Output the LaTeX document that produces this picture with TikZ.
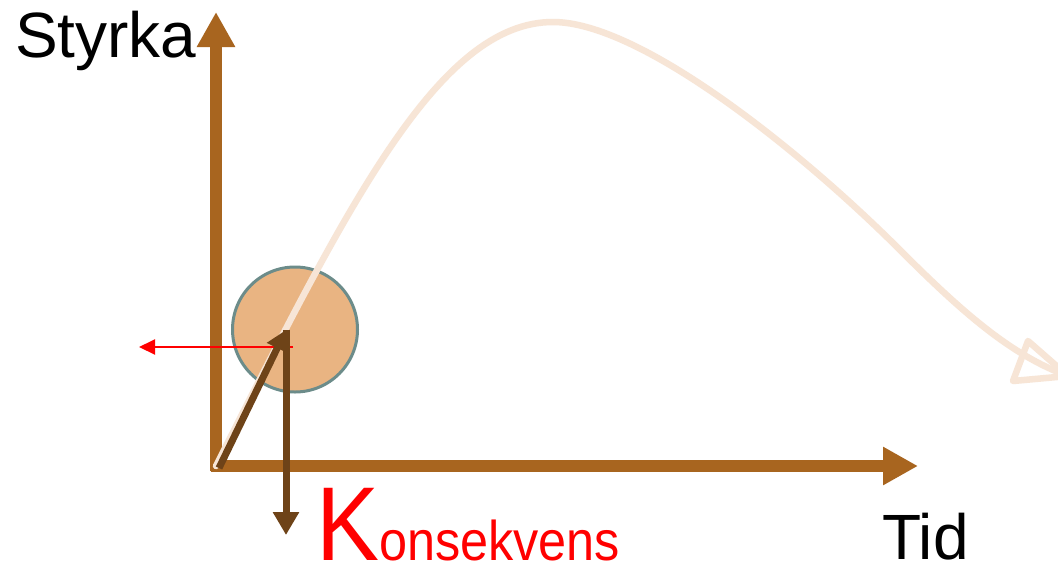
\documentclass[tikz,border=0pt]{standalone}
\usepackage{fontspec}
\setmainfont{Liberation Sans}
\usetikzlibrary{arrows.meta}
\definecolor{axisbrown}{HTML}{A8651F}
\definecolor{darkbrown}{HTML}{6E4318}
\definecolor{ballfill}{HTML}{E9B482}
\definecolor{balledge}{HTML}{6C8C8A}
\definecolor{curvecol}{HTML}{F7E5D6}
\tikzset{
  axisline/.style={draw=axisbrown, line width=11.5pt, -{Triangle[length=35pt,width=36pt]}},
  forcearrow/.style={draw=darkbrown, line width=7pt},
  lbl/.style={inner sep=0pt, anchor=base west, text depth=0pt},
}
\begin{document}
\begin{tikzpicture}[x=1pt,y=-1pt]
\useasboundingbox (0,0) rectangle (1058,566);
\clip (0,0) rectangle (1058,566);
\fill[white] (0,0) rectangle (1058,566);
% axes
\coordinate (O) at (216,466);
\coordinate (ytip) at (216,12);
\coordinate (xtip) at (918,466);
\coordinate (xstart) at (211,466);
\coordinate (ystart) at (216,471);
\draw[axisline] (ystart) -- (ytip);
\draw[axisline] (xstart) -- (xtip);
% ball
\node[circle, draw=balledge, fill=ballfill, line width=3pt, minimum size=125pt, inner sep=0pt] (ball) at (295,329.5) {};
% trajectory curve
\coordinate (c0) at (216,466);
\coordinate (peak) at (553,22);
\coordinate (mid) at (900,250);
\coordinate (cend) at (1068,376);
\draw[curvecol, line width=6.5pt, line cap=round]
  (c0) .. controls (350,200) and (440,22) .. (peak)
  .. controls (640,22) and (800,150) .. (mid)
  .. controls (960,310) and (1010,355) .. (cend);
\draw[curvecol, line width=6.5pt, line join=round] (1028,341) -- (cend) -- (1013,381) -- cycle;
% red arrow
\coordinate (rs) at (293,347);
\coordinate (re) at (139,347);
\draw[red, line width=2pt, -{Triangle[length=16pt,width=15pt]}] (rs) -- (re);
% dark force arrows
\coordinate (fa) at (286,330);
\coordinate (fb) at (286,535);
\coordinate (f0) at (219,468);
\draw[forcearrow, -{Triangle[length=20pt,width=22pt]}] (f0) -- (fa);
\draw[forcearrow, -{Triangle[length=23pt,width=25pt]}] (fa) -- (fb);
% labels
\node[lbl] (styrka) at (15,57) {\fontsize{64}{64}\selectfont Styrka};
\node[lbl] (tid) at (882,559) {\fontsize{64}{64}\selectfont Tid};
\node[lbl, text=red] (kons) at (316,560) {\scalebox{0.9}[1]{\fontsize{105}{105}\selectfont K\fontsize{56}{56}\selectfont onsekvens}};
\end{tikzpicture}
\end{document}
